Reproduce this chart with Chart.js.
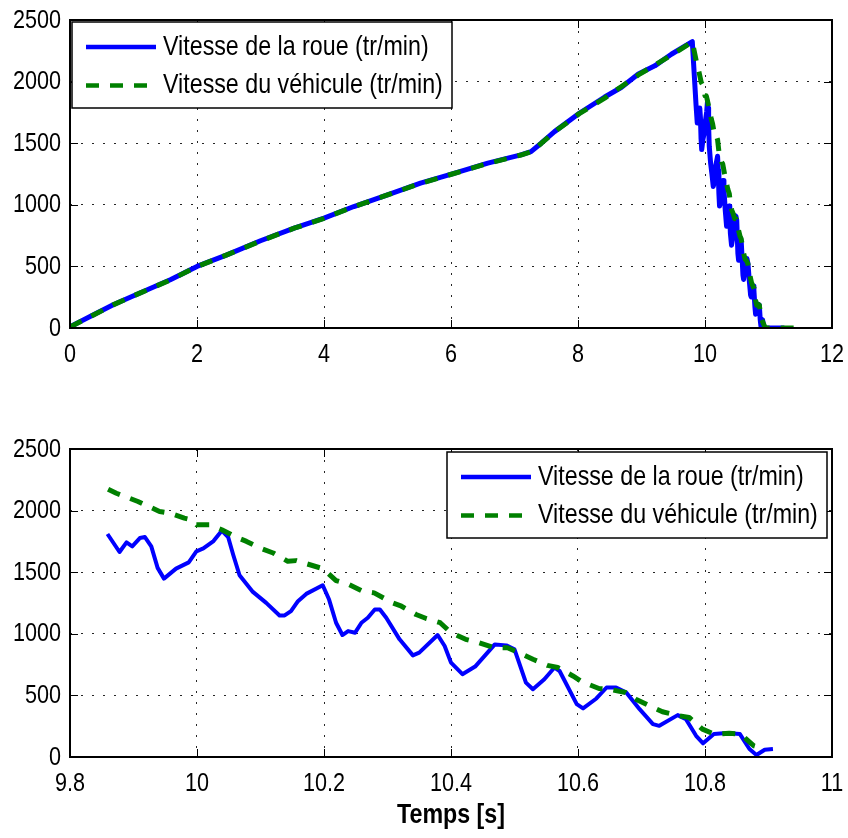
<!DOCTYPE html>
<html>
<head>
<meta charset="utf-8">
<title>Vitesse de la roue / du véhicule</title>
<script src="https://cdn.jsdelivr.net/npm/chart.js@4.4.1/dist/chart.umd.min.js"></script>
<style>
  html, body { margin: 0; padding: 0; background: #fff; }
  #page { position: relative; width: 848px; height: 838px; background: #fff; }
  #page canvas { position: absolute; left: 0; }
  #topChart { top: 0; }
  #zoomChart { top: 400px; }
</style>
</head>
<body>
<div id="page">
  <canvas id="topChart" width="848" height="400"></canvas>
  <canvas id="zoomChart" width="848" height="438"></canvas>
</div>
<script>
// acceleration phase (s, tr/min)
const rampTime    = [0, 0.37, 0.68, 1.1, 1.58, 2.0, 2.47, 3.0, 3.53, 4.0, 4.47, 5.0, 5.52, 6.02, 6.58, 7.1, 7.26, 7.42, 7.63, 8.02, 8.42, 8.68, 8.95, 9.21, 9.47, 9.8];
const rampWheel   = [10, 108, 189, 284, 392, 500, 594, 708, 811, 892, 986, 1081, 1176, 1251, 1338, 1405, 1432, 1500, 1594, 1743, 1875, 1952, 2062, 2128, 2222, 2325];
const rampVehicle = [8, 106, 188, 283, 390, 498, 593, 706, 810, 890, 985, 1080, 1174, 1250, 1336, 1404, 1430, 1498, 1592, 1740, 1866, 1958, 2054, 2134, 2215, 2322];

// braking phase, wheel speed
const brakeTimeWheel = [9.859, 9.878, 9.889, 9.898, 9.910, 9.918, 9.928, 9.938, 9.948, 9.967, 9.987, 9.999, 10.010, 10.026, 10.039, 10.049, 10.057, 10.067, 10.088, 10.109, 10.130, 10.138, 10.148, 10.159, 10.172, 10.198, 10.208, 10.219, 10.229, 10.238, 10.249, 10.259, 10.269, 10.280, 10.288, 10.298, 10.319, 10.340, 10.350, 10.379, 10.390, 10.400, 10.418, 10.438, 10.469, 10.487, 10.500, 10.518, 10.529, 10.547, 10.563, 10.571, 10.598, 10.608, 10.629, 10.645, 10.660, 10.676, 10.697, 10.718, 10.728, 10.757, 10.770, 10.786, 10.797, 10.814, 10.834, 10.855, 10.870, 10.881, 10.894, 10.907];
const brakeWheel     = [1810, 1664, 1742, 1710, 1777, 1785, 1710, 1535, 1448, 1529, 1580, 1669, 1693, 1753, 1837, 1786, 1642, 1475, 1340, 1251, 1149, 1149, 1184, 1265, 1324, 1394, 1278, 1090, 990, 1022, 1009, 1090, 1130, 1197, 1197, 1130, 955, 825, 847, 990, 901, 766, 672, 734, 914, 906, 874, 604, 550, 631, 726, 698, 429, 394, 475, 564, 564, 523, 388, 267, 253, 340, 307, 172, 111, 186, 194, 186, 65, 16, 59, 65];

// braking phase, vehicle speed
const brakeTimeVehicle = [9.860, 9.873, 9.907, 9.941, 9.957, 9.980, 9.991, 9.999, 10.020, 10.039, 10.065, 10.078, 10.099, 10.120, 10.143, 10.156, 10.198, 10.219, 10.237, 10.261, 10.279, 10.308, 10.322, 10.345, 10.361, 10.383, 10.400, 10.423, 10.444, 10.468, 10.489, 10.507, 10.529, 10.552, 10.568, 10.592, 10.607, 10.633, 10.649, 10.675, 10.691, 10.718, 10.733, 10.760, 10.775, 10.796, 10.814, 10.838, 10.856, 10.877, 10.891];
const brakeVehicle     = [2174, 2141, 2074, 1993, 1980, 1939, 1926, 1885, 1885, 1845, 1777, 1750, 1697, 1656, 1588, 1594, 1529, 1432, 1405, 1346, 1332, 1251, 1224, 1157, 1124, 1090, 1009, 955, 928, 887, 887, 847, 793, 744, 726, 658, 609, 556, 550, 523, 469, 402, 367, 334, 321, 226, 186, 192, 186, 91, 70];

// standstill
const stopTimeWheel   = [10.93, 11.25];
const stopWheel       = [0, 0];
const stopTimeVehicle = [10.95, 11.5];
const stopVehicle     = [0, 0];

const labels = ['Vitesse de la roue (tr/min)', 'Vitesse du véhicule (tr/min)'];

const FONT = "'Liberation Sans', Arial, sans-serif";
const SQUEEZE = 0.83; // the figure uses a narrow Helvetica
const BLUE = '#0000ff';
const GREEN = '#008000';

function pts(xs, ys) {
  return xs.map((x, i) => ({ x, y: ys[i] }));
}

function lineSet(label, color, data, width, dash, order) {
  return {
    label, data,
    borderColor: color, backgroundColor: color,
    borderWidth: width, borderDash: dash,
    borderJoinStyle: 'round', borderCapStyle: 'butt',
    pointRadius: 0, tension: 0, fill: false, order
  };
}

function narrowText(ctx, text, x, y, size, weight, align) {
  ctx.save();
  ctx.font = weight + ' ' + size + 'px ' + FONT;
  ctx.fillStyle = '#000';
  ctx.textBaseline = 'middle';
  ctx.textAlign = align;
  ctx.translate(x, y);
  ctx.scale(SQUEEZE, 1);
  ctx.fillText(text, 0, 0);
  ctx.restore();
}

// box, inward ticks, tick labels and legend drawn like the original figure
const matlabAxes = {
  id: 'matlabAxes',
  afterDraw(chart, args, opts) {
    const { ctx, chartArea: a, scales } = chart;
    const sx = scales.x, sy = scales.y;
    ctx.save();
    ctx.strokeStyle = '#000';
    ctx.lineWidth = 1;
    ctx.beginPath();
    sx.ticks.forEach(t => {
      const px = Math.round(sx.getPixelForValue(t.value)) + 0.5;
      ctx.moveTo(px, a.bottom); ctx.lineTo(px, a.bottom - 8);
      ctx.moveTo(px, a.top); ctx.lineTo(px, a.top + 8);
    });
    sy.ticks.forEach(t => {
      const py = Math.round(sy.getPixelForValue(t.value)) + 0.5;
      ctx.moveTo(a.left, py); ctx.lineTo(a.left + 8, py);
      ctx.moveTo(a.right, py); ctx.lineTo(a.right - 8, py);
    });
    ctx.stroke();
    ctx.lineWidth = 2;
    ctx.strokeRect(a.left, a.top, a.right - a.left, a.bottom - a.top);

    // tick labels
    sx.ticks.forEach(t => narrowText(ctx, t.label, sx.getPixelForValue(t.value), a.bottom + 26.5, 26, 'normal', 'center'));
    sy.ticks.forEach(t => narrowText(ctx, t.label, a.left - 9, sy.getPixelForValue(t.value) + 0.5, 26, 'normal', 'right'));
    if (sx.options.title.text) {
      narrowText(ctx, sx.options.title.text, (a.left + a.right) / 2, a.bottom + 58, 28, 'bold', 'center');
    }

    // legend
    const w = 380, h = 86;
    const bx = opts.corner === 'ne' ? a.right - 5 - w : a.left + 2;
    const by = a.top + (opts.corner === 'ne' ? 3 : 2);
    ctx.fillStyle = '#fff';
    ctx.fillRect(bx, by, w, h);
    ctx.lineWidth = 1.5;
    ctx.strokeStyle = '#000';
    ctx.strokeRect(bx, by, w, h);
    const rows = [25, 63.5];
    chart.data.datasets.forEach((ds, i) => {
      const y = by + rows[i];
      ctx.beginPath();
      ctx.strokeStyle = ds.borderColor;
      ctx.lineWidth = 4.5;
      ctx.setLineDash(ds.borderDash || []);
      ctx.moveTo(bx + 14, y);
      ctx.lineTo(bx + 84, y);
      ctx.stroke();
      ctx.setLineDash([]);
      narrowText(ctx, ds.label, bx + 91, y, 28, 'normal', 'left');
    });
    ctx.restore();
  }
};

function axisOptions(xMin, xMax, xStep, xHeight, xTitle) {
  const grid = { color: 'rgba(0,0,0,0.85)', lineWidth: 1, drawTicks: false };
  const border = { display: false, dash: [2, 9] };
  return {
    x: {
      type: 'linear', min: xMin, max: xMax,
      grid, border,
      ticks: {
        display: false, stepSize: xStep,
        callback: v => String(Math.round(v * 10) / 10)
      },
      title: { display: false, text: xTitle },
      afterFit: s => { s.height = xHeight; }
    },
    y: {
      min: 0, max: 2500,
      grid, border,
      ticks: { display: false, stepSize: 500, callback: v => String(v) },
      afterFit: s => { s.width = 70; }
    }
  };
}

function makeChart(id, datasets, scales, padTop, corner) {
  return new Chart(document.getElementById(id), {
    type: 'line',
    data: { datasets },
    options: {
      responsive: false,
      animation: false,
      devicePixelRatio: 1,
      layout: { padding: { left: 0, top: padTop, right: 16, bottom: 0 } },
      scales,
      plugins: {
        legend: { display: false },
        tooltip: { enabled: false },
        matlabAxes: { corner }
      }
    },
    plugins: [matlabAxes]
  });
}

// full test
makeChart('topChart', [
  lineSet(labels[0], BLUE, pts(rampTime.concat(brakeTimeWheel, stopTimeWheel), rampWheel.concat(brakeWheel, stopWheel)), 5, [], 1),
  lineSet(labels[1], GREEN, pts(rampTime.concat(brakeTimeVehicle, stopTimeVehicle), rampVehicle.concat(brakeVehicle, stopVehicle)), 5, [13, 11], 0)
], axisOptions(0, 12, 2, 72, ''), 20, 'nw');

// zoom on braking
makeChart('zoomChart', [
  lineSet(labels[0], BLUE, pts(brakeTimeWheel, brakeWheel), 4, [], 1),
  lineSet(labels[1], GREEN, pts(brakeTimeVehicle, brakeVehicle), 5, [13, 11], 0)
], axisOptions(9.8, 11, 0.2, 81, 'Temps [s]'), 49, 'ne');
</script>
</body>
</html>
